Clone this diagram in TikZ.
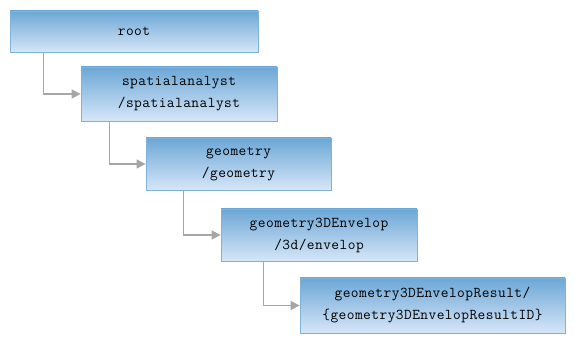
\documentclass[tikz,border=0pt]{standalone}
\usepackage{fontspec}
\setmonofont[LetterSpace=3]{Latin Modern Mono}
\usetikzlibrary{shadows}
\definecolor{boxtop}{HTML}{6CA7D6}
\definecolor{boxbot}{HTML}{D6E6F8}
\definecolor{boxline}{HTML}{7FB3DC}
\definecolor{linkgray}{HTML}{A6A6A6}
\tikzset{
  pathbox/.style={draw=boxline,line width=0.8pt,top color=boxtop,bottom color=boxbot,
    align=center,inner sep=0pt,font=\ttfamily\fontsize{15}{22}\selectfont,
    drop shadow={opacity=0.2,shadow xshift=1pt,shadow yshift=-1pt}},
  link/.style={draw=linkgray,line width=1.5pt,-{Triangle[length=9pt,width=9pt]}}
}
\usetikzlibrary{arrows.meta}
\begin{document}
\begin{tikzpicture}[x=1pt,y=1pt]
  \useasboundingbox (0,0) rectangle (574,354);
  \node[pathbox,minimum width=248pt,minimum height=41pt] (root) at (134,322.5) {root};
  \node[pathbox,minimum width=196pt,minimum height=54pt] (spatial) at (179,260) {spatialanalyst\\/spatialanalyst};
  \node[pathbox,minimum width=185pt,minimum height=52pt] (geom) at (238.5,190) {geometry\\/geometry};
  \node[pathbox,minimum width=196pt,minimum height=52pt] (envelop) at (319,119) {geometry3DEnvelop\\/3d/envelop};
  \node[pathbox,minimum width=265pt,minimum height=55pt] (result) at (432.5,48.5) {geometry3DEnvelopResult/\\\{geometry3DEnvelopResultID\}};
  % tree links
  \draw[link] ([xshift=34pt]root.south west) |- (spatial.west);
  \draw[link] ([xshift=29pt]spatial.south west) |- (geom.west);
  \draw[link] ([xshift=38pt]geom.south west) |- (envelop.west);
  \draw[link] ([xshift=43pt]envelop.south west) |- (result.west);
\end{tikzpicture}
\end{document}
